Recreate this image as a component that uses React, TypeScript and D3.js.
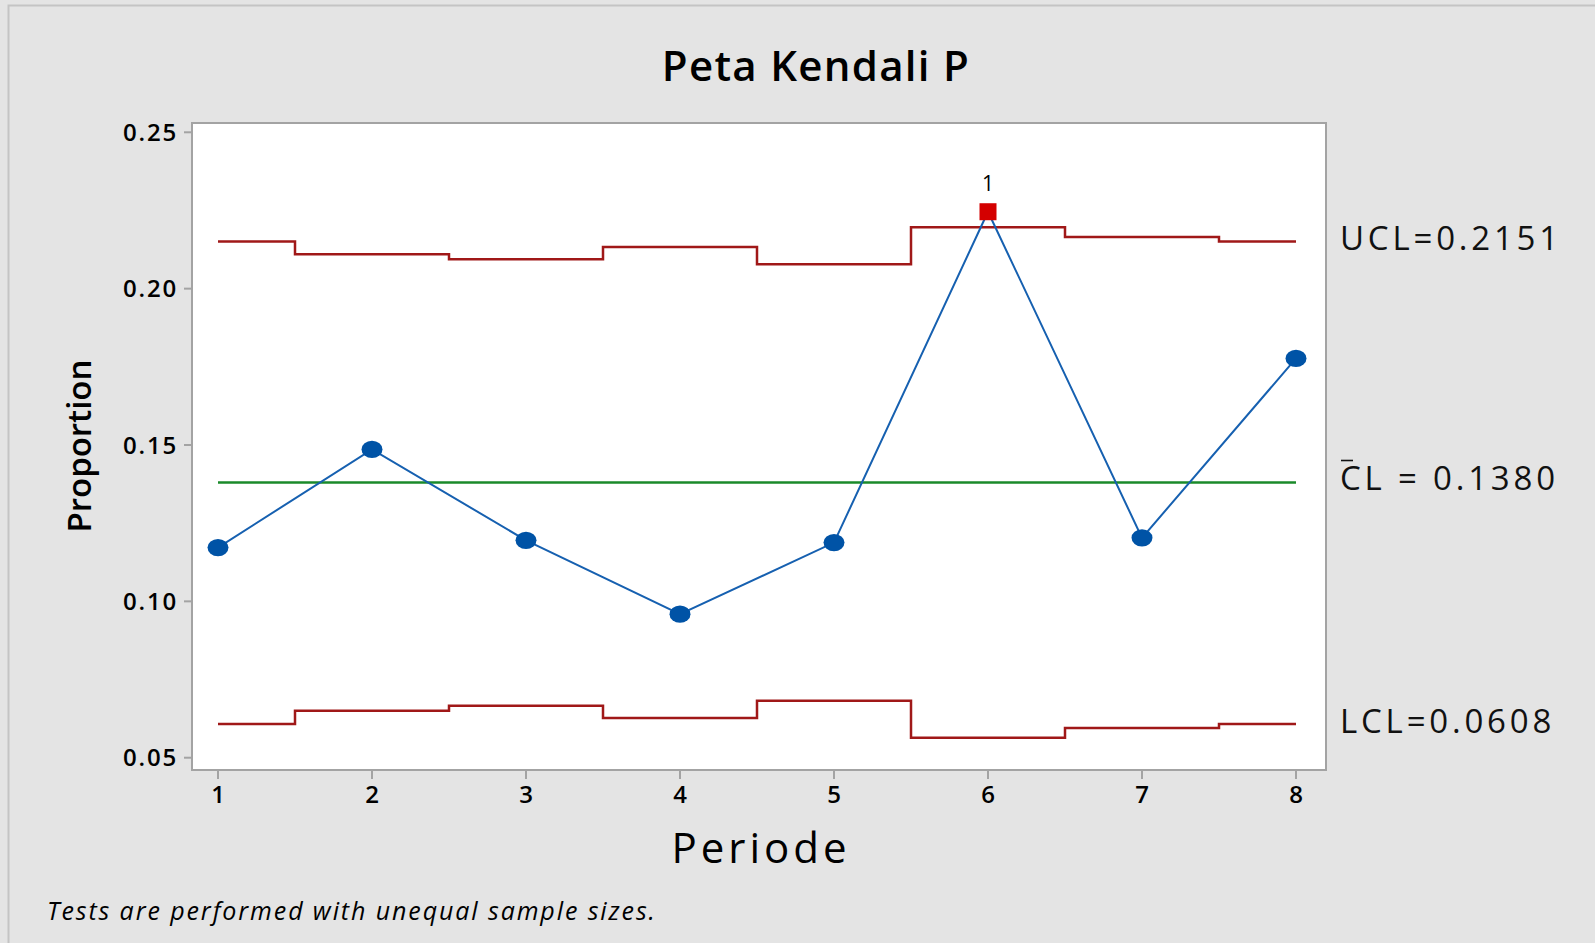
import React, { useEffect, useRef } from "react";
import * as d3 from "d3";

// subgroup proportions (Periode 1..8)
const periods = [1, 2, 3, 4, 5, 6, 7, 8];
const proportions = [0.1172, 0.1486, 0.1195, 0.0959, 0.1188, 0.2246, 0.1203, 0.1777];
// limits change per subgroup because sample sizes differ
const ucl = [0.2151, 0.2110, 0.2094, 0.2133, 0.2078, 0.2196, 0.2165, 0.2151];
const lcl = [0.0608, 0.0650, 0.0666, 0.0627, 0.0682, 0.0564, 0.0595, 0.0608];
const centerLine = 0.138;
const failedTests = [6]; // points flagged by test 1
const yTicks = [0.05, 0.1, 0.15, 0.2, 0.25];

const W = 1595;
const H = 943;
const FONT = "'Open Sans', 'Noto Sans', sans-serif";

export default function App() {
  const ref = useRef<SVGSVGElement>(null);

  useEffect(() => {
    const svg = d3.select(ref.current);
    svg.selectAll("*").remove();

    const left = 192, right = 1326, top = 123, bottom = 770;

    const x = d3.scaleLinear().domain([1, 8]).range([218, 1296]);
    const y = d3.scaleLinear().domain([0.05, 0.25]).range([757.7, 132.3]);

    // background panel
    svg.append("rect").attr("width", W).attr("height", H).attr("fill", "#e4e4e4");
    svg.append("rect")
      .attr("x", 8.5).attr("y", 5.5).attr("width", W + 20).attr("height", H + 20)
      .attr("fill", "none").attr("stroke", "#c4c4c4").attr("stroke-width", 2);

    // plot area
    svg.append("rect")
      .attr("x", left).attr("y", top).attr("width", right - left).attr("height", bottom - top)
      .attr("fill", "white").attr("stroke", "#a3a3a3").attr("stroke-width", 2);

    // y axis ticks
    const yt = svg.append("g");
    yTicks.forEach(t => {
      yt.append("line")
        .attr("x1", left - 8).attr("x2", left).attr("y1", y(t)).attr("y2", y(t))
        .attr("stroke", "#a3a3a3").attr("stroke-width", 2);
      yt.append("text")
        .attr("x", left - 14).attr("y", y(t) + 8.5)
        .attr("text-anchor", "end")
        .attr("font-family", FONT).attr("font-size", 24).attr("font-weight", 600)
        .attr("letter-spacing", 1.8)
        .text(d3.format(".2f")(t));
    });

    // x axis ticks
    const xt = svg.append("g");
    periods.forEach(p => {
      xt.append("line")
        .attr("x1", x(p)).attr("x2", x(p)).attr("y1", bottom).attr("y2", bottom + 9)
        .attr("stroke", "#a3a3a3").attr("stroke-width", 2);
      xt.append("text")
        .attr("x", x(p)).attr("y", 803)
        .attr("text-anchor", "middle")
        .attr("font-family", FONT).attr("font-size", 24).attr("font-weight", 600)
        .text(p);
    });

    // stepped limits
    const stepPoints = (vals: number[]) => {
      const pts: [number, number][] = [];
      vals.forEach((v, i) => {
        const p = periods[i];
        pts.push([x(Math.max(1, p - 0.5)), y(v)]);
        pts.push([x(Math.min(8, p + 0.5)), y(v)]);
      });
      return pts;
    };
    const line = d3.line();
    [ucl, lcl].forEach(vals => {
      svg.append("path")
        .attr("d", line(stepPoints(vals)))
        .attr("fill", "none").attr("stroke", "#a01818").attr("stroke-width", 2.5);
    });

    svg.append("line")
      .attr("x1", x(1)).attr("x2", x(8)).attr("y1", y(centerLine)).attr("y2", y(centerLine))
      .attr("stroke", "#1a8a2a").attr("stroke-width", 2.5);

    // data line
    const dataLine = d3.line<number>().x((_, i) => x(periods[i])).y(d => y(d));
    svg.append("path")
      .attr("d", dataLine(proportions))
      .attr("fill", "none").attr("stroke", "#1660b0").attr("stroke-width", 2);

    proportions.forEach((v, i) => {
      const p = periods[i];
      if (failedTests.includes(p)) {
        svg.append("rect")
          .attr("x", x(p) - 8.5).attr("y", y(v) - 8.5).attr("width", 17).attr("height", 17)
          .attr("fill", "#d40000");
        svg.append("text")
          .attr("x", x(p)).attr("y", y(v) - 21)
          .attr("text-anchor", "middle")
          .attr("font-family", FONT).attr("font-size", 21)
          .text("1");
      } else {
        svg.append("ellipse")
          .attr("cx", x(p)).attr("cy", y(v)).attr("rx", 10.5).attr("ry", 8.6)
          .attr("fill", "#0053a6");
      }
    });

    // limit labels
    const lab = (txt: string, yy: number) =>
      svg.append("text")
        .attr("x", 1340).attr("y", yy)
        .attr("font-family", FONT).attr("font-size", 33)
        .attr("letter-spacing", 3.8)
        .attr("fill", "#111")
        .text(txt);
    lab("UCL=0.2151", 249.6);
    lab("CL = 0.1380", 490);
    lab("LCL=0.0608", 733);
    svg.append("line")
      .attr("x1", 1341).attr("x2", 1353).attr("y1", 460.5).attr("y2", 460.5)
      .attr("stroke", "#111").attr("stroke-width", 1.6);

    // titles
    svg.append("text")
      .attr("x", 816).attr("y", 80.7).attr("text-anchor", "middle")
      .attr("font-family", FONT).attr("font-size", 42).attr("font-weight", 600)
      .attr("letter-spacing", 1.3)
      .text("Peta Kendali P");
    svg.append("text")
      .attr("x", (left + right) / 2 + 2).attr("y", 862.7).attr("text-anchor", "middle")
      .attr("font-family", FONT).attr("font-size", 42).attr("font-weight", 500)
      .attr("letter-spacing", 4)
      .text("Periode");
    svg.append("text")
      .attr("transform", `translate(91,446) rotate(-90)`)
      .attr("text-anchor", "middle")
      .attr("font-family", FONT).attr("font-size", 33).attr("font-weight", 600)
      .text("Proportion");
    svg.append("text")
      .attr("x", 47).attr("y", 920)
      .attr("font-family", FONT).attr("font-size", 25).attr("font-style", "italic")
      .attr("letter-spacing", 1.9)
      .text("Tests are performed with unequal sample sizes.");
  }, []);

  return (
    <svg
      ref={ref}
      width={W}
      height={H}
      style={{ position: "absolute", left: 0, top: 0, display: "block" }}
    />
  );
}
